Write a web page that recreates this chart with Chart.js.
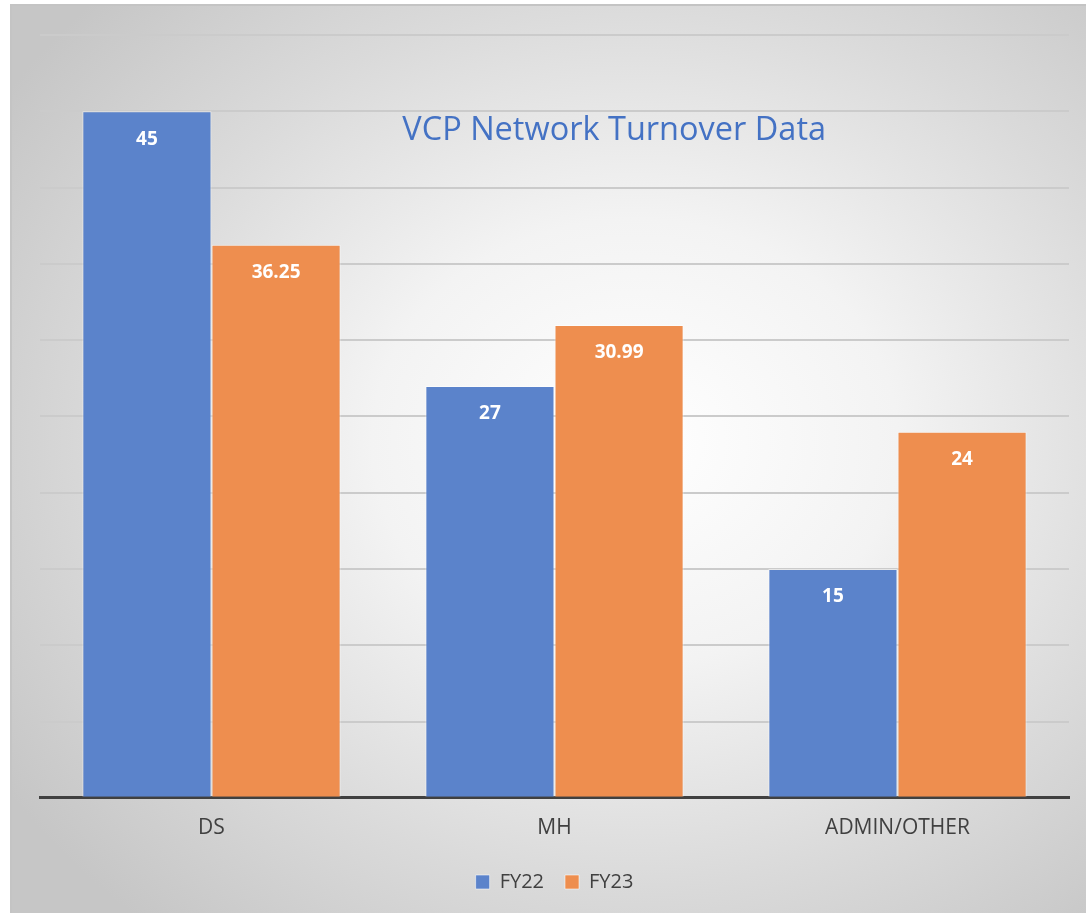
<!DOCTYPE html>
<html>
<head>
<meta charset="utf-8">
<script src="https://cdn.jsdelivr.net/npm/chart.js@4.4.1/dist/chart.umd.min.js"></script>
<style>
  html, body { margin: 0; padding: 0; background: #fff; }
  #frame {
    position: absolute; left: 10px; top: 4px; width: 1076px; height: 909px;
    border-top: 2px solid #c4c4c4; border-left: 2px solid #c4c4c4;
    box-sizing: border-box;
    background: radial-gradient(ellipse 70% 70% at 58% 48%, #ffffff 0%, #f3f3f3 35%, #dadada 70%, #c6c6c6 100%);
  }
  #wrap { position: absolute; left: 0; top: 0; width: 1086px; height: 913px; }
</style>
</head>
<body>
<div id="frame"></div>
<div id="wrap"><canvas id="chart"></canvas></div>
<script>
const categories = ["DS", "MH", "ADMIN/OTHER"];
const fy22 = [45, 27, 15];
const fy23 = [36.25, 30.99, 24];
const seriesNames = ["FY22", "FY23"];
const chartTitle = "VCP Network Turnover Data";

const titlePlugin = {
  id: "innerTitle",
  beforeDatasetsDraw(chart) {
    const { ctx, chartArea } = chart;
    ctx.save();
    ctx.font = "32.5px 'Open Sans'";
    ctx.fillStyle = "#4472c4";
    ctx.textAlign = "center";
    ctx.textBaseline = "middle";
    const x = chartArea.left + (chartArea.right - chartArea.left) * 0.558;
    ctx.fillText(chartTitle, x, chartArea.top + 96);
    ctx.restore();
  },
};

const valueLabels = {
  id: "valueLabels",
  afterDatasetsDraw(chart) {
    const { ctx } = chart;
    ctx.save();
    ctx.font = "bold 19px 'Open Sans'";
    ctx.fillStyle = "#ffffff";
    ctx.textAlign = "center";
    ctx.textBaseline = "middle";
    chart.data.datasets.forEach((ds, i) => {
      chart.getDatasetMeta(i).data.forEach((bar, j) => {
        ctx.fillText(String(ds.data[j]), bar.x, bar.y + 28);
      });
    });
    ctx.restore();
  },
};

const ctx = document.getElementById("chart").getContext("2d");
new Chart(ctx, {
  type: "bar",
  data: {
    labels: categories,
    datasets: [
      {
        label: seriesNames[0],
        data: fy22,
        backgroundColor: "#5b83cb",
        borderColor: "rgba(255,255,255,0.55)",
        borderWidth: 1,
      },
      {
        label: seriesNames[1],
        data: fy23,
        backgroundColor: "#ee8e4f",
        borderColor: "rgba(255,255,255,0.55)",
        borderWidth: 1,
      },
    ],
  },
  options: {
    responsive: true,
    maintainAspectRatio: false,
    animation: false,
    categoryPercentage: 0.753,
    barPercentage: 1,
    layout: {
      padding: { left: 40, right: 17, top: 35, bottom: 11 },
    },
    plugins: {
      legend: {
        position: "bottom",
        labels: {
          boxWidth: 14,
          boxHeight: 14,
          padding: 21,
          color: "#404040",
          font: { family: "'Open Sans'", size: 20 },
        },
      },
      tooltip: { enabled: false },
    },
    scales: {
      y: {
        min: 0,
        max: 50,
        ticks: { stepSize: 5, display: false },
        border: { display: false },
        grid: { color: "#cbcbcb", lineWidth: 2, drawTicks: false },
      },
      x: {
        grid: { display: false },
        border: { display: true, color: "#404040", width: 3 },
        ticks: {
          color: "#404040",
          padding: 10,
          font: { family: "'Open Sans'", size: 21 },
        },
      },
    },
  },
  plugins: [titlePlugin, valueLabels],
});
</script>
</body>
</html>
